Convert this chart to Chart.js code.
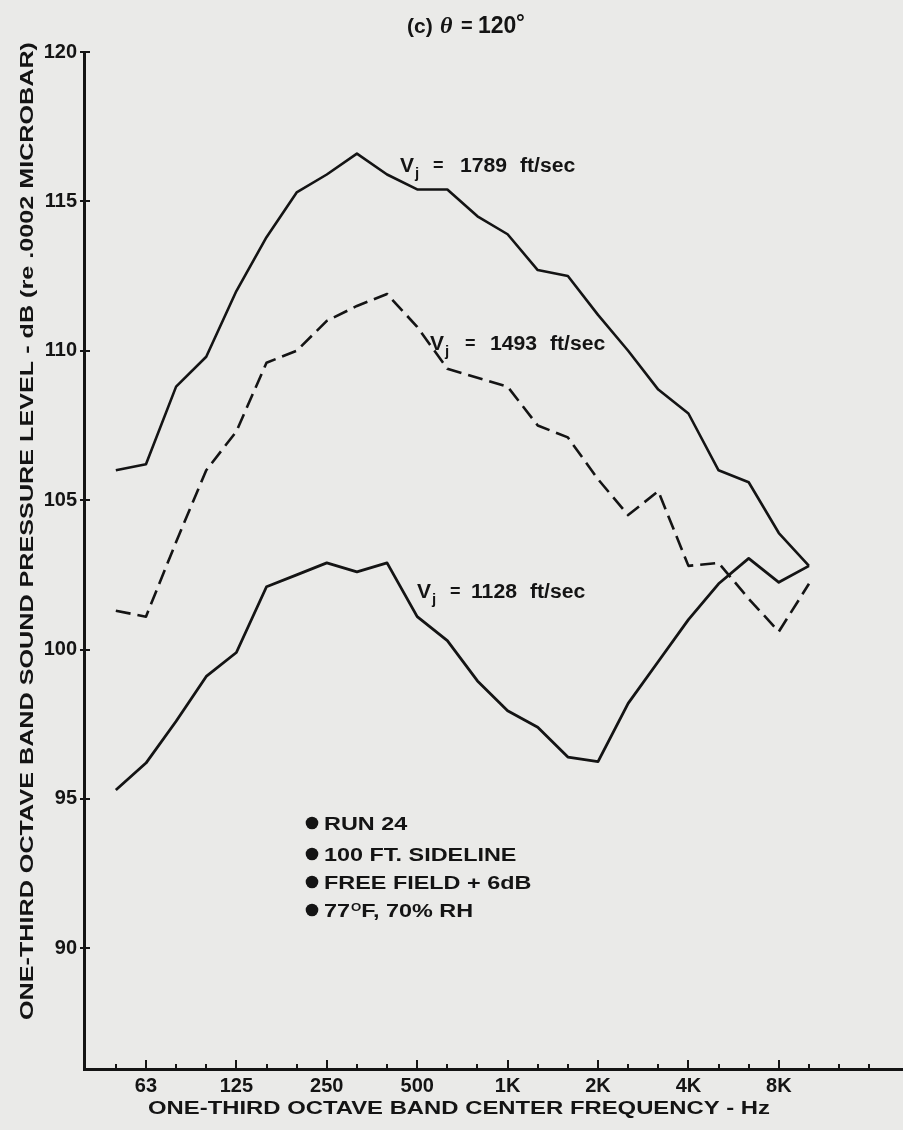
<!DOCTYPE html>
<html>
<head>
<meta charset="utf-8">
<title>One-third octave band spectra, theta = 120 deg</title>
<script src="https://cdn.jsdelivr.net/npm/chart.js@4.4.1/dist/chart.umd.min.js"></script>
<style>
  html, body { margin: 0; padding: 0; background: #eaeae8; }
  #wrap { width: 903px; height: 1130px; position: relative; }
  canvas { display: block; }
</style>
</head>
<body>
<div id="wrap"><canvas id="spectra" width="903" height="1130"></canvas></div>
<script>
// One-third octave band centre frequencies along the x axis (index = band number)
const bandLabels = ['40', '50', '63', '80', '100', '125', '160', '200', '250', '315', '400', '500',
  '630', '800', '1K', '1.25K', '1.6K', '2K', '2.5K', '3.15K', '4K', '5K', '6.3K', '8K', '10K',
  '12.5K', '16K', '20K'];
// Octave bands that carry a printed label
const labeledBands = ['63', '125', '250', '500', '1K', '2K', '4K', '8K'];
// Bands with measurements: 50 Hz through 10 kHz
const measuredBands = bandLabels.slice(1, 25);

// Sound pressure level, dB re .0002 microbar, one value per measured band
const splVj1789 = [106.0, 106.2, 108.8, 109.8, 112.0, 113.8, 115.3, 115.9, 116.6, 115.9, 115.4, 115.4,
  114.5, 113.9, 112.7, 112.5, 111.2, 110.0, 108.7, 107.9, 106.0, 105.6, 103.9, 102.8];
const splVj1493 = [101.3, 101.1, 103.6, 106.0, 107.3, 109.6, 110.0, 111.0, 111.5, 111.9, 110.8, 109.4,
  109.1, 108.8, 107.5, 107.1, 105.7, 104.5, 105.3, 102.8, 102.9, 101.7, 100.6, 102.2];
const splVj1128 = [95.3, 96.2, 97.6, 99.1, 99.9, 102.1, 102.5, 102.9, 102.6, 102.9, 101.1, 100.3,
  98.95, 97.95, 97.4, 96.4, 96.25, 98.2, 99.6, 101.0, 102.2, 103.05, 102.25, 102.8];

const yTickValues = [90, 95, 100, 105, 110, 115, 120];
const runNotes = ['RUN 24', '100 FT. SIDELINE', 'FREE FIELD + 6dB', '77\u00B0F, 70% RH'];

const INK = '#141414';
const SANS = '"Liberation Sans", Arial, Helvetica, sans-serif';

function toPoints(values) {
  return measuredBands.map((b, k) => ({ x: bandLabels.indexOf(b), y: values[k] }));
}

// Draw text, optionally stretched horizontally (sx) or fitted to a width
function drawText(ctx, text, x, y, font, opt) {
  opt = opt || {};
  ctx.save();
  ctx.font = font;
  ctx.fillStyle = INK;
  ctx.translate(x, y);
  if (opt.rotate) ctx.rotate(opt.rotate);
  let sx = opt.sx || 1;
  if (opt.width) sx = opt.width / ctx.measureText(text).width;
  ctx.scale(sx, 1);
  ctx.textAlign = opt.align || 'left';
  ctx.textBaseline = opt.baseline || 'alphabetic';
  ctx.fillText(text, 0, 0);
  const w = ctx.measureText(text).width * sx;
  ctx.restore();
  return w;
}

const paperPlugin = {
  id: 'paper',
  beforeDraw(chart) {
    const ctx = chart.ctx;
    ctx.save();
    ctx.fillStyle = '#eaeae8';
    ctx.fillRect(0, 0, chart.width, chart.height);
    ctx.restore();
  }
};

// Curve labels: anchor of the "V", offsets of "=", the speed and the unit
const curveLabels = [
  { speed: '1789', x: 400, y: 172, eq: 33, num: 60, unit: 120 },
  { speed: '1493', x: 430, y: 350, eq: 35, num: 60, unit: 120 },
  { speed: '1128', x: 417, y: 598, eq: 33, num: 54, unit: 113 }
];

const annotatePlugin = {
  id: 'annotate',
  afterDraw(chart) {
    const ctx = chart.ctx;
    const xs = chart.scales.x, ys = chart.scales.y;
    const area = chart.chartArea;

    // inward ticks on the frequency axis: longer at labelled octaves
    ctx.save();
    ctx.strokeStyle = INK;
    ctx.lineWidth = 2;
    for (let i = 1; i <= 26; i++) {
      const px = Math.round(xs.getPixelForValue(i));
      const len = labeledBands.includes(bandLabels[i]) ? 9 : 5;
      ctx.beginPath();
      ctx.moveTo(px, area.bottom);
      ctx.lineTo(px, area.bottom - len);
      ctx.stroke();
    }
    // ticks crossing the level axis
    yTickValues.forEach(v => {
      const py = Math.round(ys.getPixelForValue(v));
      ctx.beginPath();
      ctx.moveTo(area.left - 4, py);
      ctx.lineTo(area.left + 6, py);
      ctx.stroke();
    });
    ctx.restore();

    // chart heading "(c) θ = 120°"
    drawText(ctx, '(c)', 407, 33, 'bold 20px ' + SANS, { sx: 1.05 });
    drawText(ctx, '\u03B8', 440, 33, 'italic bold 24px "Liberation Serif", serif');
    drawText(ctx, '=', 461, 32, 'bold 20px ' + SANS);
    drawText(ctx, '120', 478, 33, 'bold 23px ' + SANS);
    drawText(ctx, '\u00B0', 516, 30, 'bold 22px ' + SANS);

    // axis titles
    drawText(ctx, 'ONE-THIRD OCTAVE BAND SOUND PRESSURE LEVEL - dB (re .0002 MICROBAR)',
      33, 531, 'bold 17.5px ' + SANS, { rotate: -Math.PI / 2, align: 'center', width: 978 });
    drawText(ctx, 'ONE-THIRD OCTAVE BAND CENTER FREQUENCY - Hz',
      459, 1113.5, 'bold 17.5px ' + SANS, { align: 'center', width: 622 });

    // curve labels V_j = ... ft/sec
    curveLabels.forEach(l => {
      drawText(ctx, 'V', l.x, l.y, 'bold 21px ' + SANS);
      drawText(ctx, 'j', l.x + 15, l.y + 6, 'bold 15px ' + SANS);
      drawText(ctx, '=', l.x + l.eq, l.y - 1, 'bold 18px ' + SANS);
      drawText(ctx, l.speed, l.x + l.num, l.y, 'bold 20px ' + SANS, { sx: 1.06 });
      drawText(ctx, 'ft/sec', l.x + l.unit, l.y, 'bold 20px ' + SANS, { sx: 1.06 });
    });

    // test condition notes with bullets
    const rows = [823, 854, 882, 910];
    const noteFont = 'bold 18px ' + SANS;
    runNotes.forEach((t, k) => {
      const cy = rows[k];
      ctx.save();
      ctx.fillStyle = INK;
      ctx.beginPath();
      ctx.arc(312, cy, 6.3, 0, Math.PI * 2);
      ctx.fill();
      ctx.restore();
      const base = cy + 6.5;
      if (t.indexOf('\u00B0') >= 0) {
        const parts = t.split('\u00B0');
        let x = 324;
        x += drawText(ctx, parts[0], x, base, noteFont, { sx: 1.3 });
        x += drawText(ctx, 'O', x + 1, base - 6, 'bold 11px ' + SANS, { sx: 1.2 }) + 1;
        drawText(ctx, parts[1], x, base, noteFont, { sx: 1.3 });
      } else {
        drawText(ctx, t, 324, base, noteFont, { sx: 1.3 });
      }
    });
  }
};

const tickFont = { family: SANS, weight: 'bold', size: 20 };

new Chart(document.getElementById('spectra'), {
  type: 'line',
  data: {
    datasets: [
      { label: 'Vj = 1789 ft/sec', data: toPoints(splVj1789), borderColor: INK, borderWidth: 2.6 },
      { label: 'Vj = 1493 ft/sec', data: toPoints(splVj1493), borderColor: INK, borderWidth: 2.6, borderDash: [15, 7] },
      { label: 'Vj = 1128 ft/sec', data: toPoints(splVj1128), borderColor: INK, borderWidth: 2.8 }
    ]
  },
  options: {
    responsive: false,
    animation: false,
    devicePixelRatio: 1,
    layout: { padding: { top: 52, left: 0, right: 0, bottom: 0 } },
    plugins: { legend: { display: false }, tooltip: { enabled: false }, title: { display: false } },
    elements: { point: { radius: 0 }, line: { tension: 0, borderJoinStyle: 'round', borderCapStyle: 'butt' } },
    scales: {
      x: {
        type: 'linear',
        min: -0.056,
        max: 27.12,
        afterBuildTicks: s => { s.ticks = bandLabels.slice(1, 27).map((b, i) => ({ value: i + 1 })); },
        afterFit: s => { s.height = 61; },
        grid: { drawOnChartArea: false, drawTicks: false },
        border: { display: true, color: INK, width: 3 },
        ticks: {
          autoSkip: false, maxRotation: 0, minRotation: 0, padding: 5, color: INK, font: tickFont,
          callback: v => (labeledBands.includes(bandLabels[v]) ? bandLabels[v] : '')
        }
      },
      y: {
        min: 85.96,
        max: 120,
        afterBuildTicks: s => { s.ticks = yTickValues.map(v => ({ value: v })); },
        afterFit: s => { s.width = 84; },
        grid: { drawOnChartArea: false, drawTicks: false },
        border: { display: true, color: INK, width: 3 },
        ticks: { padding: 7, color: INK, font: tickFont, callback: v => String(v) }
      }
    }
  },
  plugins: [paperPlugin, annotatePlugin]
});
</script>
</body>
</html>
